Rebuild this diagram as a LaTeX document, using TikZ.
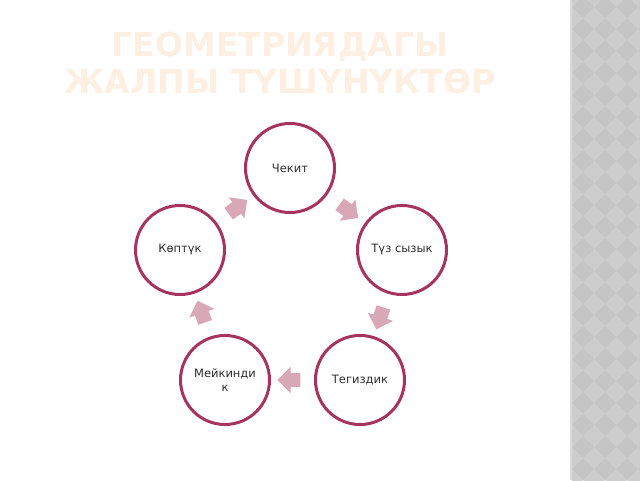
\documentclass[tikz,border=0pt]{standalone}
\usepackage{fontspec}
\setmainfont{DejaVu Sans}
\usetikzlibrary{shapes.arrows}
\definecolor{ringred}{RGB}{166,52,94}
\definecolor{arrowpink}{RGB}{216,168,182}
\definecolor{titlecream}{RGB}{253,240,226}
\definecolor{labelgray}{RGB}{45,45,45}
\definecolor{panelgray}{RGB}{197,197,197}
\definecolor{panellight}{RGB}{205,205,205}
\definecolor{panelstripe}{RGB}{218,218,218}

\begin{document}
\begin{tikzpicture}[x=1pt,y=1pt]
	\tikzstyle{concept}=[circle,draw=ringred,line width=3pt,fill=white,minimum size=89pt,inner sep=1pt,font=\fontsize{11.5}{13.5}\selectfont,text=labelgray,align=center]
	\tikzstyle{flow}=[single arrow,fill=arrowpink,draw=none,minimum height=23pt,inner xsep=0pt,inner ysep=7pt,single arrow head extend=6pt,sloped,allow upside down]
	\useasboundingbox (0,0) rectangle (640,480);

	% side panel
	\fill[panelgray] (570,0) rectangle (640,480);
	\begin{scope}
		\clip (572,0) rectangle (640,480);
		\foreach \i in {0,...,3}
			\foreach \j in {0,...,22}
				\fill[panellight] ({572+22*\i},{22*\j}) ++(-11,0) -- ++(11,11) -- ++(11,-11) -- ++(-11,-11) -- cycle;
	\end{scope}
	\fill[panelstripe] (570,0) rectangle (572,480);

	\node[font=\bfseries\fontsize{33}{37}\selectfont,text=titlecream,align=center] (title) at (280,417) {ГЕОМЕТРИЯДАГЫ\\ЖАЛПЫ ТҮШҮНҮКТӨР};

	\node[concept] (chekit) at (290,312) {Чекит};
	\node[concept] (tuz) at (402,230) {Түз сызык};
	\node[concept] (tegiz) at (360,100) {Тегиздик};
	\node[concept] (meikin) at (225,100) {Мейкинди\\к};
	\node[concept] (koptuk) at (180,230) {Көптүк};

	\path (chekit) -- node[flow] (f1) {} (tuz);
	\path (tuz) -- node[flow] (f2) {} (tegiz);
	\path (tegiz) -- node[flow] (f3) {} (meikin);
	\path (meikin) -- node[flow] (f4) {} (koptuk);
	\path (koptuk) -- node[flow] (f5) {} (chekit);
\end{tikzpicture}
\end{document}
